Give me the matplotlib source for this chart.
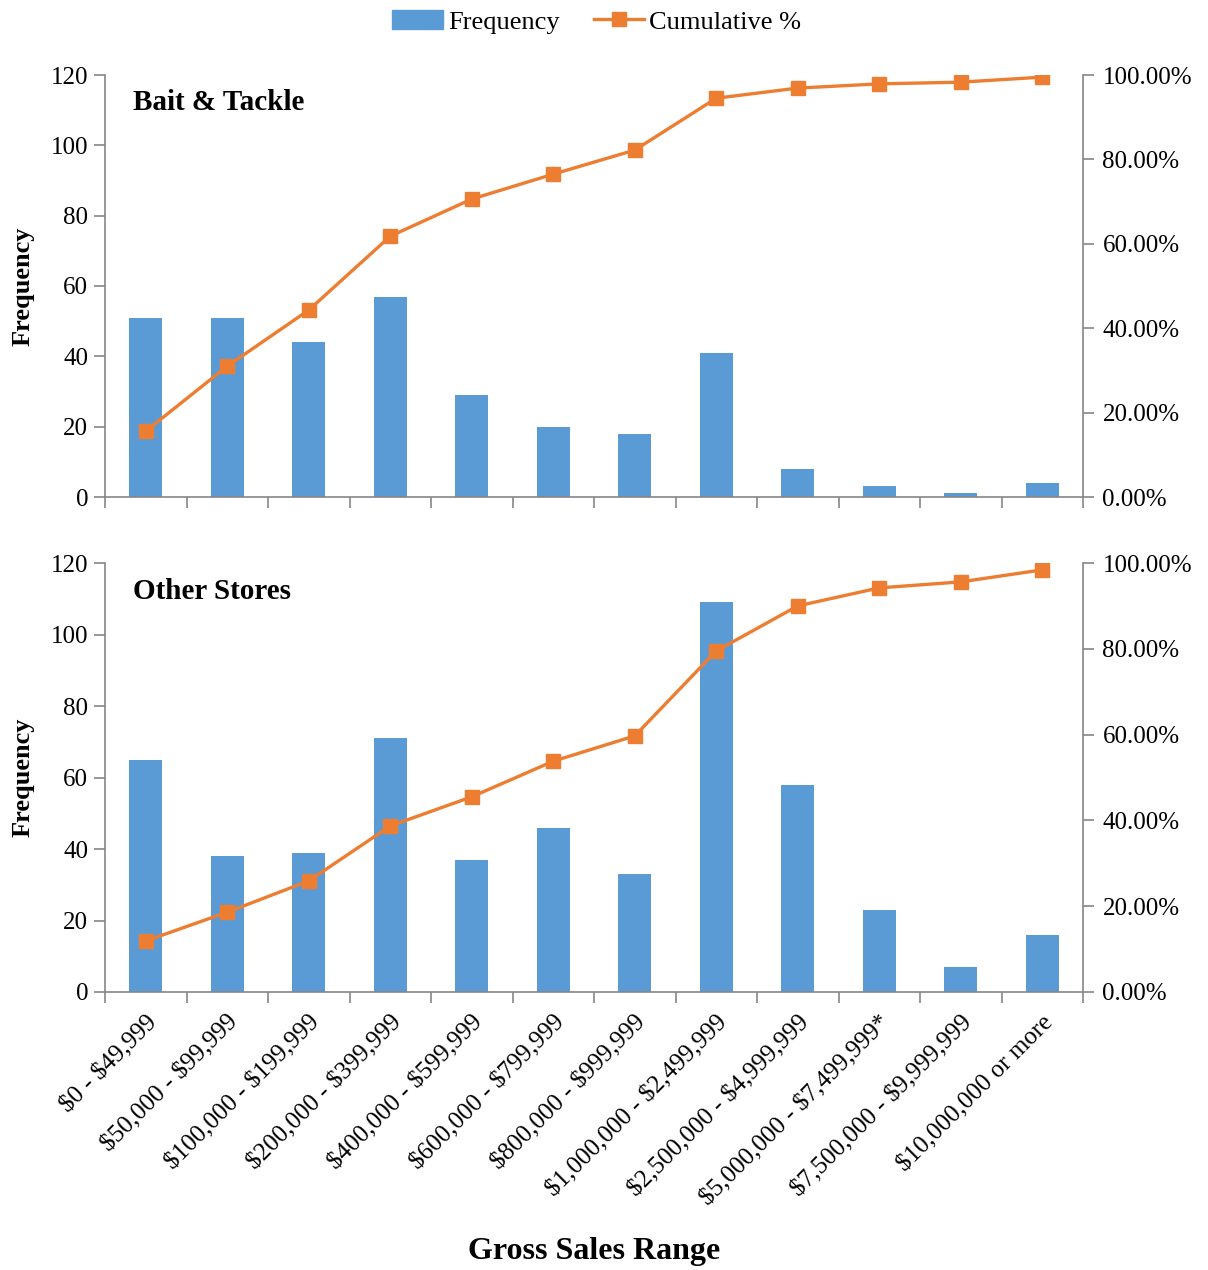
import matplotlib.pyplot as plt
import numpy as np
from matplotlib.lines import Line2D
from matplotlib.patches import Patch
from matplotlib.ticker import FuncFormatter

plt.rcParams["font.family"] = ["Liberation Serif", "DejaVu Serif"]

ranges = [
    "$0 - $49,999", "$50,000 - $99,999", "$100,000 - $199,999",
    "$200,000 - $399,999", "$400,000 - $599,999", "$600,000 - $799,999",
    "$800,000 - $999,999", "$1,000,000 - $2,499,999", "$2,500,000 - $4,999,999",
    "$5,000,000 - $7,499,999*", "$7,500,000 - $9,999,999", "$10,000,000 or more",
]

bait_freq = [51, 51, 44, 57, 29, 20, 18, 41, 8, 3, 1, 4]
bait_cum = [15.6, 31.0, 44.3, 61.8, 70.6, 76.5, 82.2, 94.5, 96.9, 97.9, 98.3, 99.5]

other_freq = [65, 38, 39, 71, 37, 46, 33, 109, 58, 23, 7, 16]
other_cum = [11.9, 18.6, 25.9, 38.7, 45.5, 53.8, 59.7, 79.5, 90.0, 94.2, 95.6, 98.4]

BAR = "#5B9BD5"
LINE = "#ED7D31"
SPINE = "#868686"

W, H = 1208, 1270
fig = plt.figure(figsize=(W / 100, H / 100), dpi=100)

left, right = 105 / W, 1083 / W


def panel(top_px, bot_px, freq, cum, title, show_labels):
    ax = fig.add_axes([left, 1 - bot_px / H, right - left, (bot_px - top_px) / H])
    x = np.arange(len(freq))
    ax.bar(x, freq, width=0.4, color=BAR, zorder=2)
    ax.set_xlim(-0.5, len(freq) - 0.5)
    ax.set_ylim(0, 120)
    ax.set_yticks(range(0, 121, 20))
    ax.set_xticks(x)
    ax.set_xticks(np.arange(-0.5, len(freq), 1.0), minor=True)
    ax.tick_params(axis="x", which="major", length=0, pad=14)
    ax.tick_params(axis="x", which="minor", length=8, color=SPINE, width=1.2)
    ax.tick_params(axis="y", length=8, color=SPINE, width=1.2, labelsize=18, pad=4)
    if show_labels:
        labels = [r.replace("$", r"\$") for r in ranges]
        ax.set_xticklabels(labels, rotation=45, ha="right", va="top",
                           rotation_mode="anchor", fontsize=18)
    else:
        ax.set_xticklabels([])
    ax.spines["top"].set_visible(False)
    ax.spines["right"].set_visible(False)
    for s in ("left", "bottom"):
        ax.spines[s].set_color(SPINE)
        ax.spines[s].set_linewidth(1.2)
    ax.set_ylabel("Frequency", fontsize=19, fontweight="bold", labelpad=12)
    ax.text(0.029, 0.934, title, transform=ax.transAxes, fontsize=21,
            fontweight="bold", va="center", ha="left")

    ax2 = ax.twinx()
    ax2.plot(x, cum, color=LINE, lw=2.4, marker="s", markersize=10, zorder=3)
    ax2.set_ylim(0, 100)
    ax2.set_yticks(range(0, 101, 20))
    ax2.yaxis.set_major_formatter(FuncFormatter(lambda v, p: f"{v:.2f}%"))
    ax2.tick_params(axis="y", length=8, color=SPINE, width=1.2, labelsize=18, pad=6)
    for s in ("top", "left", "bottom"):
        ax2.spines[s].set_visible(False)
    ax2.spines["right"].set_color(SPINE)
    ax2.spines["right"].set_linewidth(1.2)
    return ax


panel(75, 497, bait_freq, bait_cum, "Bait & Tackle", False)
panel(563, 992, other_freq, other_cum, "Other Stores", True)

fig.text(0.492, 1 - 1252 / H, "Gross Sales Range", ha="center", va="center",
         fontsize=23, fontweight="bold")

handles = [
    Patch(color=BAR),
    Line2D([], [], color=LINE, lw=2.4, marker="s", markersize=10),
]
fig.legend(handles, ["Frequency", "Cumulative %"], loc="center",
           bbox_to_anchor=(0.494, 1 - 22 / H), ncol=2, frameon=False,
           fontsize=19, handlelength=1.9, columnspacing=1.3, handletextpad=0.2)

fig.savefig("out.png", dpi=100)
